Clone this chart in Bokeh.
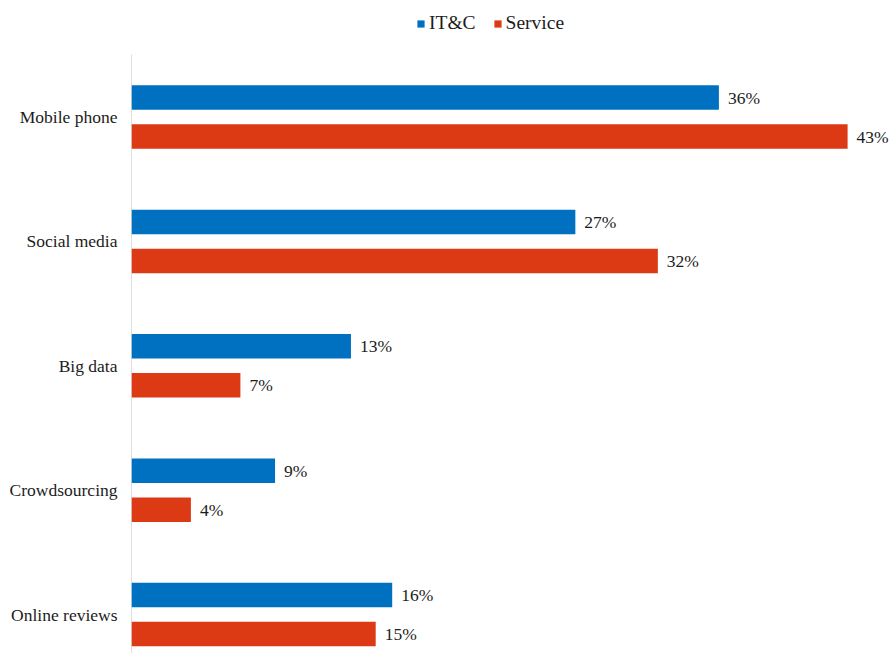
from bokeh.plotting import figure
from bokeh.models import ColumnDataSource, Range1d, FixedTicker, Legend, LegendItem
from bokeh.core.properties import value
from bokeh.embed import file_html
from bokeh.resources import INLINE

categories = ["Mobile phone", "Social media", "Big data", "Crowdsourcing", "Online reviews"]
itc_values = [35.6, 26.9, 13.3, 8.7, 15.8]
service_values = [43.4, 31.9, 6.6, 3.6, 14.8]
series_names = ["IT&C", "Service"]
series_colors = ["#0070C0", "#DC3A14"]

FONT = "'Liberation Serif'"
TEXT_COLOR = "#1C1C1C"
pos = list(range(len(categories)))
OFF = 0.157
BAR_H = 0.197
AXIS_TOP = -0.502
RANGE_TOP = -0.937
RANGE_BOTTOM = 4.313

p = figure(width=890, height=653, output_backend="svg", toolbar_location=None,
           x_range=Range1d(0, 46), y_range=Range1d(RANGE_BOTTOM, RANGE_TOP),
           min_border_left=131, min_border_right=0, min_border_top=0, min_border_bottom=0)

# category axis line (begins below the legend, as in the reference)
p.segment(x0=[0], y0=[AXIS_TOP], x1=[0], y1=[RANGE_BOTTOM], line_color="#BFBFBF", line_width=1)

renderers = []
for vals, sign, color, name in [(itc_values, -1, series_colors[0], series_names[0]),
                                (service_values, 1, series_colors[1], series_names[1])]:
    ys = [c + sign * OFF for c in pos]
    src = ColumnDataSource(dict(y=ys, right=vals, label=[f"{round(v)}%" for v in vals]))
    r = p.hbar(y="y", left=0, right="right", height=BAR_H, source=src,
               fill_color=color, line_color=None)
    renderers.append((name, r))
    p.text(x="right", y="y", text="label", source=src, x_offset=9,
           text_font=value(FONT), text_font_size="17.5px", text_color=TEXT_COLOR,
           text_baseline="middle", text_align="left")

legend = Legend(items=[LegendItem(label=n, renderers=[r]) for n, r in renderers],
                orientation="horizontal", location=(285, 619),
                label_text_font=FONT, label_text_font_size="19.5px", label_text_color=TEXT_COLOR,
                glyph_width=9, glyph_height=9, label_standoff=4, spacing=17,
                label_height=22, padding=0, margin=0, border_line_color=None,
                background_fill_alpha=0)
p.add_layout(legend, "center")

p.xaxis.visible = False
p.xgrid.visible = False
p.ygrid.visible = False
p.outline_line_color = None

p.yaxis.ticker = FixedTicker(ticks=pos)
p.yaxis.major_label_overrides = {i: c for i, c in zip(pos, categories)}
p.yaxis.major_tick_line_color = None
p.yaxis.minor_tick_line_color = None
p.yaxis.major_tick_out = 0
p.yaxis.major_label_standoff = 14
p.yaxis.axis_line_color = None
p.yaxis.major_label_text_font = FONT
p.yaxis.major_label_text_font_size = "17.5px"
p.yaxis.major_label_text_color = TEXT_COLOR

open("out.html", "w").write(file_html(p, INLINE))
